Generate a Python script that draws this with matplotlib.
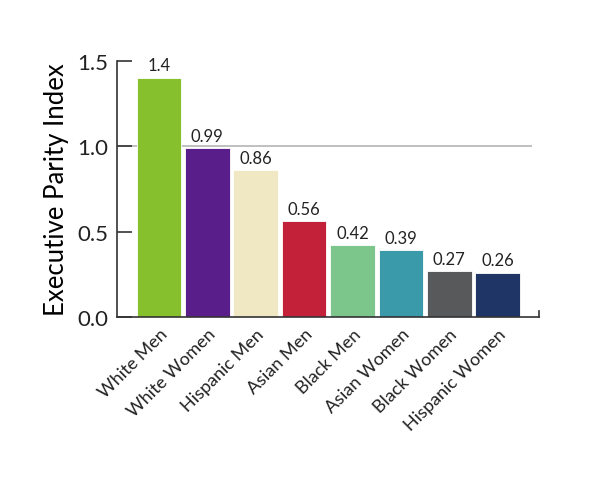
import matplotlib
matplotlib.use('Agg')
import matplotlib.pyplot as plt

plt.rcParams['font.family'] = ['Lato', 'DejaVu Sans']

#data
groups = ['White Men', 'White Women', 'Hispanic Men', 'Asian Men',
          'Black Men', 'Asian Women', 'Black Women', 'Hispanic Women']
parity = [1.4, 0.99, 0.86, 0.56, 0.42, 0.39, 0.27, 0.26]
value_labels = ['1.4', '0.99', '0.86', '0.56', '0.42', '0.39', '0.27', '0.26']
colors = ['#86c12d', '#5a1e8a', '#f0e7c3', '#c3213a',
          '#7cc68c', '#3a9aa9', '#58595b', '#1e3565']
y_ticks = [0.0, 0.5, 1.0, 1.5]

fig = plt.figure(figsize=(5.96, 4.85), dpi=100)
ax = fig.add_axes([0.196, 0.344, 0.708, 0.529])

x = list(range(len(groups)))
ax.hlines(1.0, -0.87, 7.7, color='#b5b5b5', lw=1.2, zorder=0)
bars = ax.bar(x, parity, width=0.92, color=colors, edgecolor='white', linewidth=0.6, zorder=2)

for xi, v, lab in zip(x, parity, value_labels):
    ax.text(xi, v + 0.025, lab, ha='center', va='bottom', fontsize=12, color='#222222', clip_on=False)

ax.set_xlim(-0.87, 7.85)
ax.set_ylim(0, 1.5)
ax.set_yticks(y_ticks)
ax.set_yticklabels(['%.1f' % t for t in y_ticks])
ax.set_xticks(x)
ax.set_xticklabels(groups, rotation=45, ha='right', rotation_mode='anchor', fontsize=13, color='#222222')
ax.tick_params(axis='x', length=0, pad=6)
ax.tick_params(axis='y', direction='in', length=11, width=1.2, labelsize=16, pad=6, color='#333333', labelcolor='#222222')

for s in ['top', 'right']:
    ax.spines[s].set_visible(False)
for s in ['left', 'bottom']:
    ax.spines[s].set_color('#333333')
    ax.spines[s].set_linewidth(1.2)

#small upturn at the right end of the x axis
ax.plot([1, 1], [0, 0.025], transform=ax.transAxes, color='#333333', lw=1.2, clip_on=False)

ax.set_ylabel('Executive Parity Index', fontsize=18.5, labelpad=6)

fig.savefig('out.png', dpi=100, facecolor='white')
